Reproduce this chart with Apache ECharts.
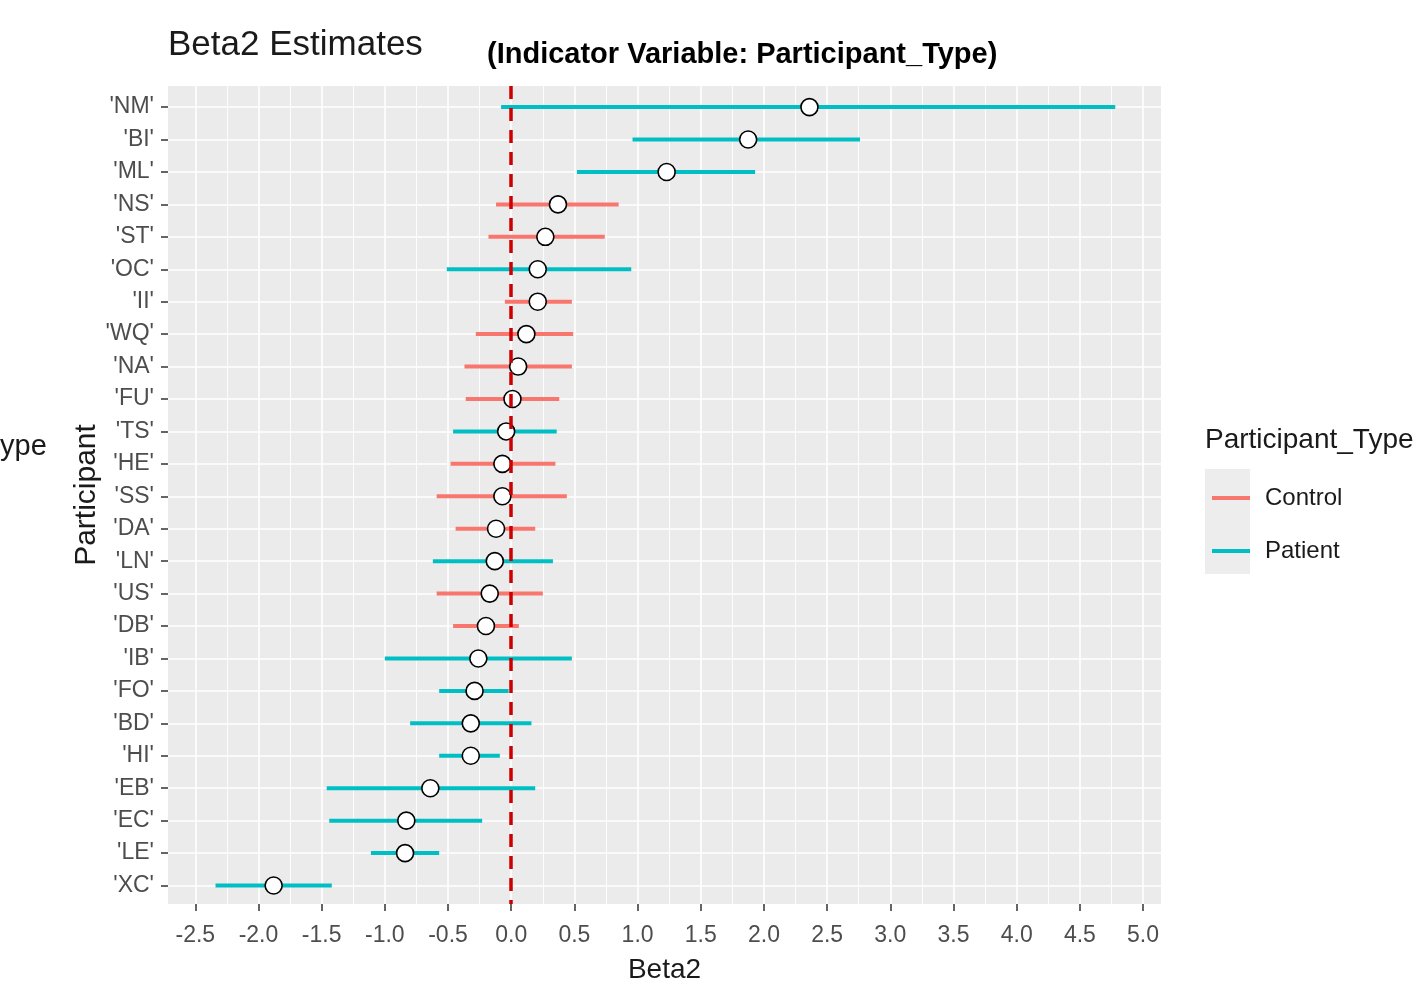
<!DOCTYPE html>
<html>
<head>
<meta charset="utf-8">
<script src="https://cdn.jsdelivr.net/npm/echarts@6/dist/echarts.min.js"></script>
<style>
  html, body { margin: 0; padding: 0; background: #fff; }
  #chart { width: 1422px; height: 1002px; }
</style>
</head>
<body>
<div id="chart"></div>
<script>
// participants, top to bottom
const participants = ["'NM'", "'BI'", "'ML'", "'NS'", "'ST'", "'OC'", "'II'", "'WQ'", "'NA'", "'FU'",
  "'TS'", "'HE'", "'SS'", "'DA'", "'LN'", "'US'", "'DB'", "'IB'", "'FO'", "'BD'", "'HI'", "'EB'", "'EC'", "'LE'", "'XC'"]
const groups = ['Patient', 'Patient', 'Patient', 'Control', 'Control', 'Patient', 'Control', 'Control', 'Control', 'Control',
  'Patient', 'Control', 'Control', 'Control', 'Patient', 'Control', 'Control', 'Patient', 'Patient', 'Patient', 'Patient', 'Patient', 'Patient', 'Patient', 'Patient']
const estimates = [2.36, 1.875, 1.23, 0.37, 0.27, 0.21, 0.21, 0.12, 0.055, 0.01,
  -0.04, -0.07, -0.07, -0.12, -0.13, -0.17, -0.20, -0.26, -0.29, -0.32, -0.32, -0.64, -0.83, -0.84, -1.88]
const lower = [-0.08, 0.96, 0.52, -0.12, -0.18, -0.51, -0.05, -0.28, -0.37, -0.36,
  -0.46, -0.48, -0.59, -0.44, -0.62, -0.59, -0.46, -1.0, -0.57, -0.80, -0.57, -1.46, -1.44, -1.11, -2.34]
const upper = [4.78, 2.76, 1.93, 0.85, 0.74, 0.95, 0.48, 0.49, 0.48, 0.38,
  0.36, 0.35, 0.44, 0.19, 0.33, 0.25, 0.06, 0.48, -0.02, 0.16, -0.09, 0.19, -0.23, -0.57, -1.42]
const xTicks = [-2.5, -2.0, -1.5, -1.0, -0.5, 0.0, 0.5, 1.0, 1.5, 2.0, 2.5, 3.0, 3.5, 4.0, 4.5, 5.0]
const xMinorTicks = [-2.25, -1.75, -1.25, -0.75, -0.25, 0.25, 0.75, 1.25, 1.75, 2.25, 2.75, 3.25, 3.75, 4.25, 4.75]

const groupColors = { Control: '#F8766D', Patient: '#00BFC4' }
const rowIdx = participants.map((p, i) => i)
const font = "'Liberation Sans', Arial, sans-serif"

const barSeries = ['Control', 'Patient'].map(g => ({
  name: g,
  type: 'custom',
  z: 2,
  itemStyle: { color: groupColors[g] },
  data: rowIdx.filter(i => groups[i] === g).map(i => [lower[i], upper[i], i]),
  encode: { x: [0, 1], y: 2 },
  renderItem: (params, api) => {
    const p1 = api.coord([api.value(0), api.value(2)])
    const p2 = api.coord([api.value(1), api.value(2)])
    return {
      type: 'line',
      shape: { x1: p1[0], y1: p1[1], x2: p2[0], y2: p2[1] },
      style: { stroke: groupColors[g], lineWidth: 4 }
    }
  }
}))

const chart = echarts.init(document.getElementById('chart'))
const option = {
  animation: false,
  grid: {
    left: 168, right: 261, top: 86, bottom: 98,
    show: true, backgroundColor: '#EBEBEB', borderWidth: 0
  },
  legend: {
    data: ['Control', 'Patient'],
    orient: 'vertical',
    left: 1207,
    top: 481,
    icon: 'rect',
    itemWidth: 38,
    itemHeight: 4,
    itemGap: 29,
    textStyle: { color: '#1a1a1a', fontSize: 24, fontFamily: font, padding: [0, 0, 0, 10] },
    selectedMode: false
  },
  xAxis: [
    {
      type: 'value',
      min: -2.716,
      max: 5.142,
      name: 'Beta2',
      nameLocation: 'middle',
      nameGap: 52,
      nameTextStyle: { color: '#1a1a1a', fontSize: 28, fontFamily: font },
      axisLine: { show: false, onZero: false },
      axisTick: { show: true, length: 7, customValues: xTicks, lineStyle: { color: '#333', width: 1.5 } },
      axisLabel: {
        customValues: xTicks,
        color: '#4D4D4D', fontSize: 23, fontFamily: font, margin: 20,
        formatter: v => v.toFixed(1)
      },
      splitLine: { show: true, lineStyle: { color: '#fff', width: 1.6 } }
    },
    {
      type: 'value',
      min: -2.716,
      max: 5.142,
      position: 'top',
      axisLine: { show: false, onZero: false },
      axisTick: { show: false, customValues: xMinorTicks },
      axisLabel: { show: false, customValues: xMinorTicks },
      splitLine: { show: true, lineStyle: { color: '#fff', width: 0.9 } }
    }
  ],
  yAxis: {
    type: 'value',
    inverse: true,
    min: -0.65,
    max: 24.57,
    axisLine: { show: false, onZero: false },
    axisTick: { show: true, length: 7, customValues: rowIdx, lineStyle: { color: '#333', width: 1.5 } },
    axisLabel: {
      customValues: rowIdx,
      color: '#4D4D4D', fontSize: 23, fontFamily: font, margin: 14,
      formatter: v => participants[Math.round(v)]
    },
    splitLine: { show: true, lineStyle: { color: '#fff', width: 1.6 } }
  },
  graphic: [
    { type: 'text', left: 168, top: 28, style: { text: 'Beta2 Estimates', fill: '#1a1a1a', font: '35px ' + font } },
    { type: 'text', left: 487, top: 40, style: { text: '(Indicator Variable: Participant_Type)', fill: '#000', font: 'bold 29px ' + font } },
    { type: 'text', x: 87, y: 495, rotation: Math.PI / 2,
      style: { text: 'Participant', fill: '#1a1a1a', font: '30px ' + font, align: 'center', verticalAlign: 'middle' } },
    { type: 'text', x: 0, y: 447, style: { text: 'ype', fill: '#1a1a1a', font: '29px ' + font, align: 'left', verticalAlign: 'middle' } },
    { type: 'text', x: 1205, y: 440, style: { text: 'Participant_Type', fill: '#1a1a1a', font: '28px ' + font, align: 'left', verticalAlign: 'middle' } },
    { type: 'rect', z: -1, shape: { x: 1205, y: 469, width: 45, height: 105 }, style: { fill: '#EDEDED' } }
  ],
  series: [
    ...barSeries,
    {
      type: 'line',
      z: 3,
      data: [],
      markLine: {
        silent: true,
        symbol: 'none',
        label: { show: false },
        lineStyle: { color: '#CC0000', type: [13, 9], width: 3.5 },
        data: [{ xAxis: 0 }]
      }
    },
    {
      type: 'scatter',
      z: 4,
      symbol: 'circle',
      symbolSize: 17,
      itemStyle: { color: '#fff', borderColor: '#000', borderWidth: 1.6, opacity: 1 },
      data: rowIdx.map(i => [estimates[i], i])
    }
  ]
}
chart.setOption(option)
</script>
</body>
</html>
